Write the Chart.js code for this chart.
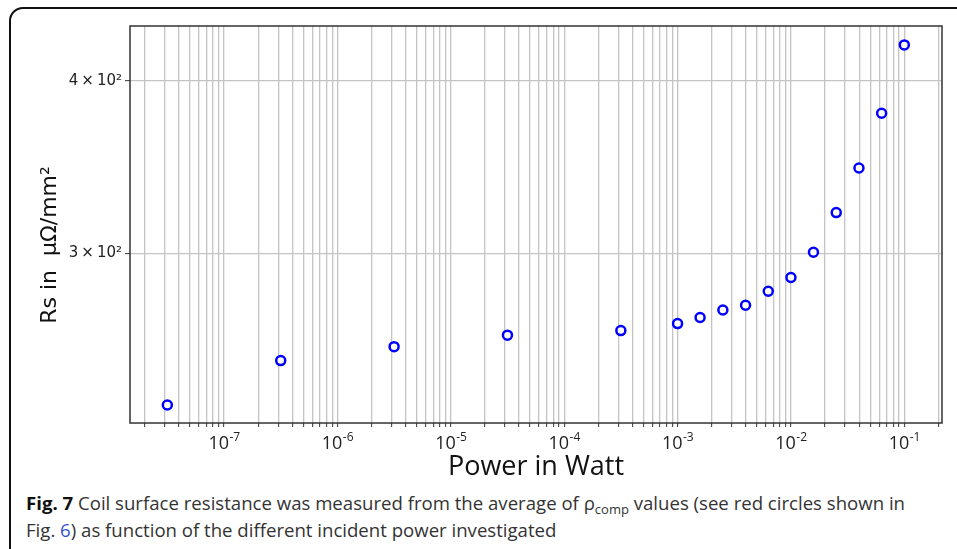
<!DOCTYPE html>
<html>
<head>
<meta charset="utf-8">
<script src="https://cdn.jsdelivr.net/npm/chart.js@4/dist/chart.umd.min.js"></script>
<style>
  html, body { margin: 0; padding: 0; background: #fff; }
  body { width: 957px; height: 549px; position: relative; overflow: hidden; }
  #frame {
    position: absolute; left: 9px; top: 7px; width: 1000px; height: 560px;
    border: 2px solid #111; border-radius: 14px; box-sizing: border-box;
  }
  #chart { position: absolute; left: 0; top: 0; }
  #caption {
    position: absolute; left: 26px; top: 490px;
    font-family: "Open Sans", sans-serif; font-size: 18.6px; line-height: 26.5px;
    color: #333; white-space: nowrap;
  }
  #caption b { color: #111; }
  #caption .link { color: #3355cc; }
  #caption sub { font-size: 13px; vertical-align: -4px; line-height: 0; }
</style>
</head>
<body>
<div id="frame"></div>
<canvas id="chart" width="957" height="490"></canvas>
<div id="caption"><b>Fig. 7</b> Coil surface resistance was measured from the average of ρ<sub>comp</sub> values (see red circles shown in<br>Fig. <span class="link">6</span>) as function of the different incident power investigated</div>
<script>
// Incident power (W) and coil surface resistance (µΩ/mm²)
const powerWatt = [3.16e-8, 3.16e-7, 3.16e-6, 3.16e-5, 3.16e-4, 1e-3, 1.58e-3, 2.51e-3,
  3.98e-3, 6.31e-3, 1e-2, 1.58e-2, 2.51e-2, 3.98e-2, 6.31e-2, 1e-1];
const resistance = [233.0, 250.9, 256.8, 261.8, 263.8, 266.9, 269.6, 273.0,
  275.2, 281.7, 288.2, 300.6, 321.2, 346.0, 379.1, 424.9];

// axis ranges and tick labels
const xRange = [1.48e-8, 0.215];
const yRange = [226.1, 438.5];
const yTickValues = [300, 400];
const yTickLabels = ['3\u2009×\u200910²', '4\u2009×\u200910²'];
const decadeExponents = [-8, -7, -6, -5, -4, -3, -2, -1];
const decadeLabels = ['-8', '-7', '-6', '-5', '-4', '-3', '-2', '-1'];

/** Plot frame, decade labels with raised exponents and the rotated y title */
const framePlugin = {
  id: 'frame',
  afterDraw(chart) {
    const { ctx, chartArea: a } = chart;
    const xs = chart.scales.x;
    ctx.save();
    ctx.strokeStyle = '#333';
    ctx.lineWidth = 1.5;
    ctx.strokeRect(a.left, a.top, a.right - a.left, a.bottom - a.top);

    ctx.fillStyle = '#222';
    ctx.textBaseline = 'alphabetic';
    ctx.textAlign = 'left';
    decadeExponents.forEach((e, i) => {
      const v = Math.pow(10, e);
      if (v < xRange[0] || v > xRange[1]) return;
      const px = xs.getPixelForValue(v);
      ctx.font = '18px "Open Sans"';
      const wBase = ctx.measureText('10').width;
      ctx.font = '12px "Open Sans"';
      const wExp = ctx.measureText(decadeLabels[i]).width;
      const x0 = px - (wBase + wExp) / 2;
      ctx.font = '18px "Open Sans"';
      ctx.fillText('10', x0, a.bottom + 25.5);
      ctx.font = '12px "Open Sans"';
      ctx.fillText(decadeLabels[i], x0 + wBase + 0.5, a.bottom + 18);
    });

    ctx.translate(50, 245);
    ctx.rotate(-Math.PI / 2);
    ctx.fillStyle = '#111';
    ctx.font = '22px "DejaVu Sans"';
    ctx.textAlign = 'center';
    ctx.textBaseline = 'middle';
    ctx.fillText('Rs in  µΩ/mm²', 0, 0);
    ctx.restore();
  },
};

const data = powerWatt.map((x, i) => ({ x, y: resistance[i] }));

new Chart(document.getElementById('chart'), {
  type: 'scatter',
  data: {
    datasets: [{
      data,
      pointStyle: 'circle',
      pointRadius: 4.5,
      pointBorderWidth: 2.5,
      borderColor: '#0000ff',
      backgroundColor: '#ffffff',
    }],
  },
  options: {
    responsive: false,
    animation: false,
    devicePixelRatio: 1,
    layout: { padding: { top: 26, right: 15, left: 0, bottom: 0 } },
    plugins: { legend: { display: false }, tooltip: { enabled: false } },
    scales: {
      x: {
        type: 'logarithmic',
        min: xRange[0],
        max: xRange[1],
        afterBuildTicks(scale) {
          const ticks = [];
          decadeExponents.forEach((e) => {
            for (let m = 1; m <= 9; m++) {
              const v = m * Math.pow(10, e);
              if (v >= xRange[0] && v <= xRange[1]) ticks.push({ value: v, major: m === 1 });
            }
          });
          scale.ticks = ticks;
        },
        afterFit(scale) { scale.height = 67; },
        border: { display: false },
        grid: { color: '#c4c4c4', lineWidth: 1.3, tickColor: '#333', tickLength: 4, tickWidth: 1 },
        ticks: {
          autoSkip: false,
          maxRotation: 0,
          callback: () => '',
        },
        title: {
          display: true,
          text: 'Power in Watt',
          color: '#111',
          font: { family: 'Open Sans', size: 27 },
          padding: { top: 0, bottom: 6 },
        },
      },
      y: {
        type: 'logarithmic',
        min: yRange[0],
        max: yRange[1],
        afterBuildTicks(scale) {
          scale.ticks = yTickValues.map((v) => ({ value: v }));
        },
        afterFit(scale) { scale.width = 130; },
        border: { display: false },
        grid: { color: '#c4c4c4', lineWidth: 1.3, tickColor: '#333', tickLength: 5, tickWidth: 1 },
        ticks: {
          padding: 3,
          color: '#222',
          font: { family: 'DejaVu Sans', size: 15 },
          callback(value) {
            const i = yTickValues.indexOf(value);
            return i >= 0 ? yTickLabels[i] : '';
          },
        },
      },
    },
  },
  plugins: [framePlugin],
});
</script>
</body>
</html>
